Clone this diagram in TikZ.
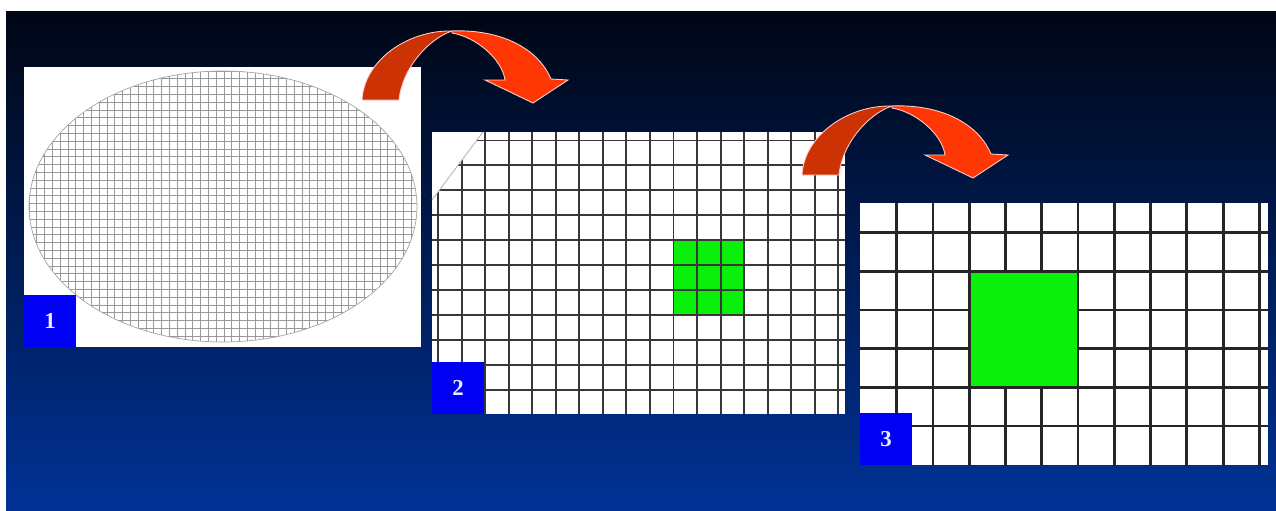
\documentclass[tikz,border=0pt]{standalone}
\usepackage{fontspec}
\setmainfont{Liberation Serif}
\usetikzlibrary{positioning}

\definecolor{bgtop}{RGB}{0,6,20}
\definecolor{bgmid}{RGB}{0,26,92}
\definecolor{bgbot}{RGB}{0,50,150}
\definecolor{arrdark}{RGB}{205,50,5}
\definecolor{arrlight}{RGB}{255,55,5}
\definecolor{chipgreen}{RGB}{10,240,10}
\definecolor{tagblue}{RGB}{0,0,245}

\begin{document}
\begin{tikzpicture}[x=0.02cm, y=-0.02cm,
    panel/.style={fill=white, inner sep=0pt, outer sep=0pt},
    tag/.style={fill=tagblue, text=white!92!blue, font=\fontsize{13}{15}\selectfont\bfseries, minimum size=1.04cm, inner sep=0pt, outer sep=0pt},
    fineline/.style={gray!80, line width=0.4pt},
    cutline/.style={black!78, line width=1.1pt},
    zoomline/.style={black!85, line width=1.6pt},
    bentarrow/.pic={
        \filldraw[fill=arrdark, draw=white!80!red, line width=0.5pt]
            (-90,69) .. controls (-88,30) and (-45,-1) .. (0,0)
            .. controls (-24,8) and (-50,38) .. (-53,69) -- cycle;
        \filldraw[fill=arrlight, draw=white!80!red, line width=0.5pt]
            (0,0) .. controls (45,-2) and (85,15) .. (99,48)
            -- (116,49) -- (81,72) -- (33,49) -- (53,49)
            .. controls (50,28) and (24,6) .. (0,2) -- cycle;
    }
]
\useasboundingbox (0,0) rectangle (1276,511);
\fill[top color=bgtop, middle color=bgmid, bottom color=bgbot] (6,11) rectangle (1276,511);

% wafer
\node[panel, minimum width=7.94cm, minimum height=5.6cm] (wafer) at (222.5,207) {};
\begin{scope}
    \clip (223,206.5) ellipse [x radius=3.88cm, y radius=2.71cm];
    \foreach \i in {0,...,50} \draw[fineline] ({29+7.8*\i},70) -- ++(0,275);
    \foreach \j in {0,...,35} \draw[fineline] (28,{71+7.8*\j}) -- ++(392,0);
\end{scope}
\draw[gray!70, line width=0.4pt] (223,206.5) ellipse [x radius=3.88cm, y radius=2.71cm];
\node[tag, anchor=south west] (lab1) at (wafer.south west) {1};

% die field
\node[panel, minimum width=8.26cm, minimum height=5.64cm] (field) at (638.5,273) {};
\begin{scope}
    \clip (432,200) -- (483,132) -- (845,132) -- (845,414) -- (432,414) -- cycle;
    \fill[chipgreen] (673.6,240.3) rectangle (744.3,315.2);
    \foreach \i in {0,...,17} \draw[cutline] ({438+23.55*\i},132) -- ++(0,282);
    \foreach \j in {0,...,10} \draw[cutline] (432,{140.5+24.95*\j}) -- ++(413,0);
\end{scope}
\draw[gray!60, line width=0.5pt] (432,200) -- (483,132);
\node[tag, anchor=south west] (lab2) at (field.south west) {2};

% close-up
\node[panel, minimum width=8.16cm, minimum height=5.24cm] (closeup) at (1064,334) {};
\foreach \i in {0,...,10} \draw[zoomline] ({896.7+36.27*\i},203) -- ++(0,262);
\foreach \j in {0,...,5} \draw[zoomline] (860,{232.7+38.66*\j}) -- ++(408,0);
\filldraw[zoomline, fill=chipgreen] (969.2,271.4) rectangle (1078,387.3);
\node[tag, anchor=south west] (lab3) at (closeup.south west) {3};

% arrows
\pic at (452,31) {bentarrow};
\pic at (892,106) {bentarrow};
\end{tikzpicture}
\end{document}
